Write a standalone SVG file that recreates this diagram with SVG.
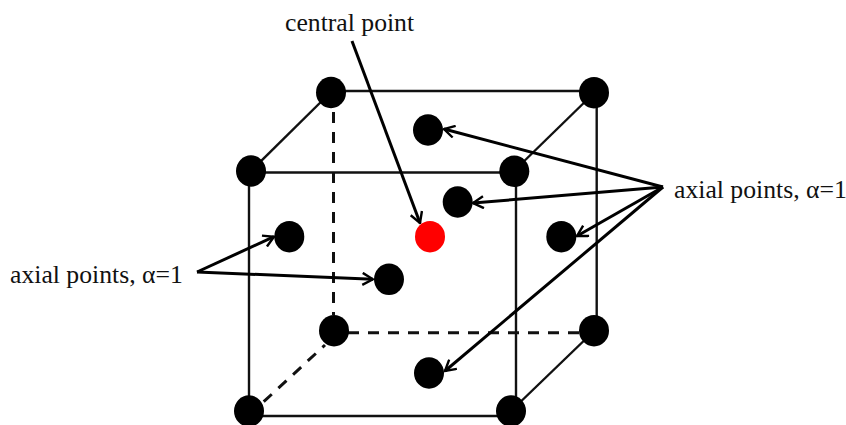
<svg xmlns="http://www.w3.org/2000/svg" width="846" height="425" viewBox="0 0 846 425">
<defs>
<marker id="open" viewBox="0 0 14 14" refX="12.5" refY="7" markerWidth="14" markerHeight="14" markerUnits="userSpaceOnUse" orient="auto">
<path d="M2 1L12.5 7L2 13" fill="none" stroke="#000" stroke-width="2.400"/>
</marker>
</defs>
<style>
.edge{stroke:#111;stroke-width:2.400;fill:none}
.dash{stroke:#111;stroke-width:3;fill:none;stroke-dasharray:11 9}
.arrow{stroke:#000;stroke-width:3;fill:none;marker-end:url(#open)}
.pt{fill:#000}
.c{fill:#f00}
text{font-family:"Liberation Serif","Times New Roman",serif;font-size:25.700px;fill:#111}
</style>
<rect width="846" height="425" fill="#fff"/>
<g id="connectors">
<path class="edge" d="M331 91H594"/>
<path class="edge" d="M251 172.500H514"/>
<path class="edge" d="M249 171V411"/>
<path class="edge" d="M516 171V411"/>
<path class="edge" d="M596.700 92V331"/>
<path class="edge" d="M249 416H511"/>
<path class="edge" d="M331 92L251 171"/>
<path class="edge" d="M594 93L514 171"/>
<path class="edge" d="M594 331L511 411"/>
<path class="dash" d="M333.500 112V315"/>
<path class="dash" d="M348 332.700H580"/>
<path class="dash" d="M263.700 401.700L325 345"/>
<path class="arrow" d="M352 41L420 223"/>
<path class="arrow" d="M663 187L444 129"/>
<path class="arrow" d="M663 187L473 203"/>
<path class="arrow" d="M663 187L577 236"/>
<path class="arrow" d="M663 187L445 371"/>
<path class="arrow" d="M197 272L274 236.700"/>
<path class="arrow" d="M197 272L373 279.300"/>
</g>
<g id="corner-back-top-left"><ellipse class="pt" cx="331" cy="92.500" rx="15" ry="15.700"/></g>
<g id="corner-back-top-right"><ellipse class="pt" cx="594" cy="92.700" rx="15" ry="15.700"/></g>
<g id="corner-front-top-left"><ellipse class="pt" cx="251" cy="171" rx="15" ry="15.700"/></g>
<g id="corner-front-top-right"><ellipse class="pt" cx="514.300" cy="171.300" rx="15" ry="15.700"/></g>
<g id="corner-back-bottom-left"><ellipse class="pt" cx="334" cy="330.700" rx="15" ry="15.700"/></g>
<g id="corner-back-bottom-right"><ellipse class="pt" cx="594" cy="330.700" rx="15" ry="15.700"/></g>
<g id="corner-front-bottom-left"><ellipse class="pt" cx="249" cy="411" rx="15" ry="15.700"/></g>
<g id="corner-front-bottom-right"><ellipse class="pt" cx="511" cy="411" rx="15" ry="15.700"/></g>
<g id="axial-top"><ellipse class="pt" cx="428" cy="130" rx="15" ry="15.700"/></g>
<g id="axial-back"><ellipse class="pt" cx="457.700" cy="202" rx="15" ry="15.700"/></g>
<g id="axial-right"><ellipse class="pt" cx="561.300" cy="236.700" rx="15" ry="15.700"/></g>
<g id="axial-bottom"><ellipse class="pt" cx="429" cy="373" rx="15" ry="15.700"/></g>
<g id="axial-left"><ellipse class="pt" cx="289.300" cy="236.700" rx="15" ry="15.700"/></g>
<g id="axial-front"><ellipse class="pt" cx="389" cy="279.300" rx="15" ry="15.700"/></g>
<g id="central"><ellipse class="c" cx="430" cy="236.700" rx="15" ry="15.700"/></g>
<g id="label-central"><text x="285" y="31">central point</text></g>
<g id="label-axial-right"><text x="674" y="198">axial points, α=1</text></g>
<g id="label-axial-left"><text x="10" y="283">axial points, α=1</text></g>
</svg>
